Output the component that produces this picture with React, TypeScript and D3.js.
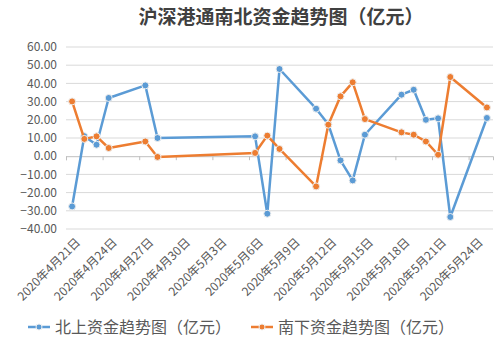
import React, { useEffect, useRef } from "react";
import * as d3 from "d3";

const dates = [
  "2020-04-21", "2020-04-22", "2020-04-23", "2020-04-24", "2020-04-27", "2020-04-28",
  "2020-05-06", "2020-05-07", "2020-05-08", "2020-05-11", "2020-05-12", "2020-05-13",
  "2020-05-14", "2020-05-15", "2020-05-18", "2020-05-19", "2020-05-20", "2020-05-21",
  "2020-05-22", "2020-05-25",
];
const northValues = [
  -27.6, 11, 6.3, 32, 38.9, 10, 10.9, -31.6, 47.9, 26.1, 17.5, -2.3,
  -13.3, 11.8, 33.8, 36.5, 20, 20.8, -33.4, 21,
];
const southValues = [
  30.1, 9.5, 10.9, 4.5, 8.1, -0.4, 1.8, 11.3, 4, -16.6, 17.3, 32.9,
  40.6, 20.4, 13.1, 11.8, 8.1, 0.8, 43.5, 26.8,
];
const yTicks = [60, 50, 40, 30, 20, 10, 0, -10, -20, -30, -40];
const series = [
  { name: "北上资金趋势图（亿元）", values: northValues, color: "#5B9BD5" },
  { name: "南下资金趋势图（亿元）", values: southValues, color: "#ED7D31" },
];
const title = "沪深港通南北资金趋势图（亿元）";

const W = 500, H = 362;
const margin = { top: 47, right: 7, bottom: 133, left: 66 };
const FONT = "'Noto Sans CJK SC', 'Noto Sans', sans-serif";

function App() {
  const ref = useRef<SVGSVGElement>(null);

  useEffect(() => {
    const svg = d3.select(ref.current);
    svg.selectAll("*").remove();

    const parse = d3.timeParse("%Y-%m-%d");
    const pts = dates.map(d => parse(d) as Date);
    const start = d3.timeHour.offset(pts[0], -12);
    const end = d3.timeHour.offset(pts[pts.length - 1], 12);

    const x = d3.scaleTime().domain([start, end]).range([margin.left, W - margin.right]);
    const y = d3.scaleLinear().domain([-40, 60]).range([H - margin.bottom, margin.top]);

    // title
    svg.append("text")
      .attr("x", 281).attr("y", 24)
      .attr("text-anchor", "middle")
      .style("font-family", FONT).style("font-size", "19px").style("font-weight", "bold")
      .style("fill", "#404040")
      .text(title);

    // gridlines
    svg.append("g").selectAll("line")
      .data(yTicks.filter(v => v !== 0))
      .join("line")
      .attr("x1", margin.left).attr("x2", W - margin.right)
      .attr("y1", d => y(d)).attr("y2", d => y(d))
      .attr("stroke", "#d9d9d9").attr("stroke-width", 1);

    // y labels
    svg.append("g").selectAll("text")
      .data(yTicks)
      .join("text")
      .attr("x", 57).attr("y", d => y(d))
      .attr("dy", "0.35em")
      .attr("text-anchor", "end")
      .style("font-family", FONT).style("font-size", "12px").style("fill", "#595959")
      .text(d => d3.format(".2f")(d));

    // x axis at zero
    const tickDates = d3.range(0, 12).map(i => d3.timeHour.offset(start, i * 72));
    const axis = svg.append("g").attr("transform", `translate(0,${y(0)})`)
      .call(d3.axisBottom(x).tickValues(tickDates).tickSize(4).tickFormat(() => ""));
    axis.select(".domain").attr("stroke", "#bfbfbf");
    axis.selectAll(".tick line").attr("stroke", "#bfbfbf");

    // x labels
    const labelDates = d3.range(0, 12).map(i => d3.timeDay.offset(pts[0], i * 3));
    const fmt = (d: Date) => `${d.getFullYear()}年${d.getMonth() + 1}月${d.getDate()}日`;
    svg.append("g").selectAll("text")
      .data(labelDates)
      .join("text")
      .attr("transform", d => `translate(${x(d) + 9},${y(-40) + 14}) rotate(-45)`)
      .attr("text-anchor", "end")
      .style("font-family", FONT).style("font-size", "12px").style("fill", "#595959")
      .text(fmt);

    // lines
    const line = d3.line<number>()
      .x((_, i) => x(pts[i]))
      .y(d => y(d));

    series.forEach(s => {
      const g = svg.append("g");
      g.append("path")
        .datum(s.values)
        .attr("d", line)
        .attr("fill", "none")
        .attr("stroke", s.color)
        .attr("stroke-width", 2.5)
        .attr("stroke-linejoin", "round");
      g.selectAll("circle")
        .data(s.values)
        .join("circle")
        .attr("cx", (_, i) => x(pts[i]))
        .attr("cy", d => y(d))
        .attr("r", 3.5)
        .attr("fill", s.color)
        .attr("stroke", "#eeeeee")
        .attr("stroke-width", 1);
    });

    // legend
    const legendX = [28, 251];
    series.forEach((s, i) => {
      const g = svg.append("g").attr("transform", `translate(${legendX[i]},327)`);
      g.append("line").attr("x1", 0).attr("x2", 22).attr("y1", 0).attr("y2", 0)
        .attr("stroke", s.color).attr("stroke-width", 2.5);
      g.append("circle").attr("cx", 11).attr("cy", 0).attr("r", 3)
        .attr("fill", s.color).attr("stroke", "#eeeeee").attr("stroke-width", 1);
      g.append("text").attr("x", 27).attr("y", 0).attr("dy", "0.35em")
        .style("font-family", FONT).style("font-size", "16px").style("fill", "#595959")
        .text(s.name);
    });
  }, []);

  return (
    <svg
      ref={ref}
      width={W}
      height={H}
      style={{ position: "absolute", left: 0, top: 0, background: "#fff" }}
    />
  );
}

export default App;
